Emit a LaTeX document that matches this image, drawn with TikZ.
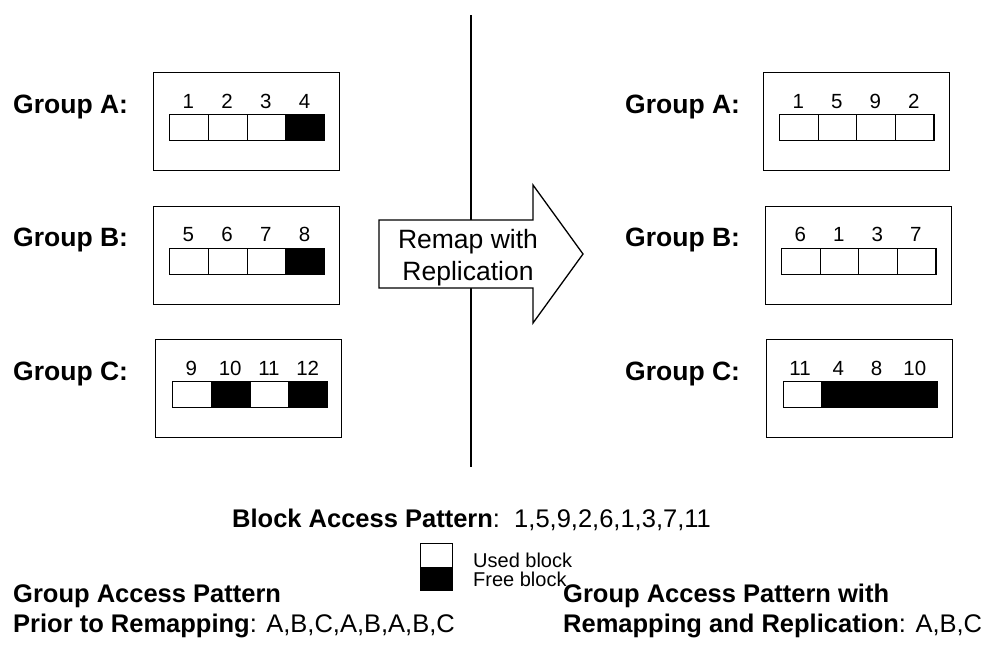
\documentclass[tikz,border=0pt]{standalone}
\usepackage{fontspec}
\setmainfont{Liberation Sans}
\begin{document}
\begin{tikzpicture}[x=1pt,y=-1pt,
  line/.style={line width=1.3pt},
  grpbox/.style={draw,line width=1.3pt,minimum width=186pt,minimum height=98pt,anchor=north west,inner sep=0pt},
  cell/.style={draw,line width=1.3pt,minimum width=38.75pt,minimum height=26pt,anchor=north west,inner sep=0pt},
  free/.style={cell,fill=black},
  used/.style={cell,fill=white},
  num/.style={font=\fontsize{20.5}{24}\selectfont,anchor=base,inner sep=0pt},
  glabel/.style={font=\fontsize{26.5}{30}\selectfont\bfseries,anchor=base west,inner sep=0pt},
  txt/.style={anchor=base west,inner sep=0pt,align=left}]
\useasboundingbox (0,0) rectangle (982,667);

% divider between the two halves
\coordinate (divtop) at (471,15);
\coordinate (divbot) at (471,467);
\draw[line] (divtop) -- (divbot);

% ---- left half: before remapping ----
\node[glabel] (lA) at (13,113) {Group A:};
\node[glabel] (lB) at (13,246.5) {Group B:};
\node[glabel] (lC) at (13,380) {Group C:};

\node[grpbox] (bLA) at (153,72) {};
\node[grpbox] (bLB) at (153,205.5) {};
\node[grpbox] (bLC) at (155,339) {};

% group A cells
\foreach \i/\n/\s in {0/1/used,1/2/used,2/3/used,3/4/free}{
  \node[\s] (cLA\i) at (169+38.75*\i,114) {};
  \node[num] (nLA\i) at (188.4+38.75*\i,108) {\n};
}
% group B cells
\foreach \i/\n/\s in {0/5/used,1/6/used,2/7/used,3/8/free}{
  \node[\s] (cLB\i) at (169+38.75*\i,247.5) {};
  \node[num] (nLB\i) at (188.4+38.75*\i,241.5) {\n};
}
% group C cells
\foreach \i/\n/\s in {0/9/used,1/10/free,2/11/used,3/12/free}{
  \node[\s] (cLC\i) at (172+38.75*\i,381) {};
  \node[num] (nLC\i) at (191.4+38.75*\i,375) {\n};
}

% ---- remap arrow ----
\coordinate (a1) at (379,220);
\coordinate (a2) at (533,220);
\coordinate (a3) at (533,185);
\coordinate (a4) at (583,254);
\coordinate (a5) at (533,323);
\coordinate (a6) at (533,288);
\coordinate (a7) at (379,288);
\draw[line,fill=white,line join=miter] (a1) -- (a2) -- (a3) -- (a4) -- (a5) -- (a6) -- (a7) -- cycle;
\node[font=\fontsize{26.5}{32.5}\selectfont,align=center,inner sep=0pt,anchor=base] (remap) at (468,280.5) {Remap with\\Replication};

% ---- right half: after remapping ----
\node[glabel] (rA) at (625,113) {Group A:};
\node[glabel] (rB) at (625,246.5) {Group B:};
\node[glabel] (rC) at (625,380) {Group C:};

\node[grpbox] (bRA) at (763,72) {};
\node[grpbox] (bRB) at (765,205.5) {};
\node[grpbox] (bRC) at (766,339) {};

\foreach \i/\n/\s in {0/1/used,1/5/used,2/9/used,3/2/used}{
  \node[\s] (cRA\i) at (779+38.5*\i,114) {};
  \node[num] (nRA\i) at (798.2+38.5*\i,108) {\n};
}
\foreach \i/\n/\s in {0/6/used,1/1/used,2/3/used,3/7/used}{
  \node[\s] (cRB\i) at (781+38.5*\i,247.5) {};
  \node[num] (nRB\i) at (800.2+38.5*\i,241.5) {\n};
}
\foreach \i/\n/\s in {0/11/used,1/4/free,2/8/free,3/10/free}{
  \node[\s] (cRC\i) at (783+38.25*\i,381) {};
  \node[num] (nRC\i) at (800+38.25*\i,375) {\n};
}

% ---- access pattern and legend ----
\node[txt,font=\fontsize{25.5}{30}\selectfont] (bap) at (232,527) {\textbf{Block Access Pattern}:\ \ 1,5,9,2,6,1,3,7,11};

\node[draw,line width=1.3pt,fill=white,minimum width=32pt,minimum height=24pt,anchor=north west,inner sep=0pt] (legU) at (420,543) {};
\node[draw,line width=1.3pt,fill=black,minimum width=32pt,minimum height=23pt,anchor=north west,inner sep=0pt] (legF) at (420,567) {};
\node[txt,font=\fontsize{20}{21}\selectfont] (legUt) at (473,567) {Used block};
\node[txt,font=\fontsize{20}{21}\selectfont] (legFt) at (473,586) {Free block};

\node[txt,font=\fontsize{25.5}{30}\selectfont] (gapL) at (13,632) {\textbf{Group Access Pattern}\\\textbf{Prior to Remapping}: A,B,C,A,B,A,B,C};
\node[txt,font=\fontsize{25.5}{30}\selectfont] (gapR) at (563,632) {\textbf{Group Access Pattern with}\\\textbf{Remapping and Replication}: A,B,C};
\end{tikzpicture}
\end{document}
